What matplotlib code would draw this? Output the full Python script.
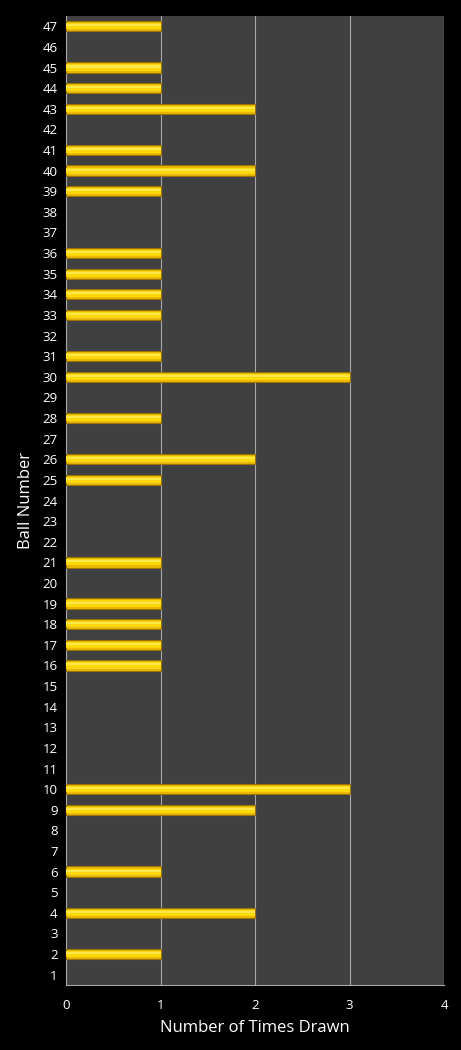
import matplotlib.pyplot as plt
import numpy as np

balls = list(range(1, 48))
counts = [0, 1, 0, 2, 0, 1, 0, 0, 2, 3,
          0, 0, 0, 0, 0, 1, 1, 1, 1, 0,
          1, 0, 0, 0, 1, 2, 0, 1, 0, 3,
          1, 0, 1, 1, 1, 1, 0, 0, 1, 2,
          1, 0, 2, 1, 1, 0, 1]
x_ticks = [0, 1, 2, 3, 4]

plt.rcParams['font.family'] = ['Open Sans', 'DejaVu Sans']

fig = plt.figure(figsize=(4.61, 10.5), dpi=100, facecolor='black')
ax = fig.add_axes([66 / 461, 1 - 985 / 1050, (444 - 66) / 461, (985 - 16) / 1050])
ax.set_facecolor('#404040')

# bars: dark gold base with brighter core to fake the bevel
edges = ['#9a7400' if c > 0 else 'none' for c in counts]
ax.barh(balls, counts, height=0.5, color='#eab800', edgecolor=edges, linewidth=0.8, zorder=3)
ax.barh(balls, counts, height=0.3, color='#fcd80a', linewidth=0, zorder=4)
ax.barh(np.array(balls) + 0.05, counts, height=0.1, color='#ffe84a', linewidth=0, zorder=5)

ax.set_xlim(0, 4)
ax.set_ylim(0.5, 47.5)
ax.set_xticks(x_ticks)
ax.set_yticks(balls)
ax.grid(axis='x', color='#a8a8a8', linewidth=0.8, zorder=1)
ax.tick_params(colors='white', labelsize=9.5, length=0, pad=6)
ax.tick_params(axis='x', pad=10)
for s in ['top', 'right']:
    ax.spines[s].set_visible(False)
for s in ['left', 'bottom']:
    ax.spines[s].set_color('#a8a8a8')
    ax.spines[s].set_linewidth(0.8)

ax.set_xlabel('Number of Times Drawn', color='white', fontsize=12, labelpad=6)
ax.set_ylabel('Ball Number', color='white', fontsize=12, labelpad=6)

fig.savefig('out.png', dpi=100, facecolor='black')
